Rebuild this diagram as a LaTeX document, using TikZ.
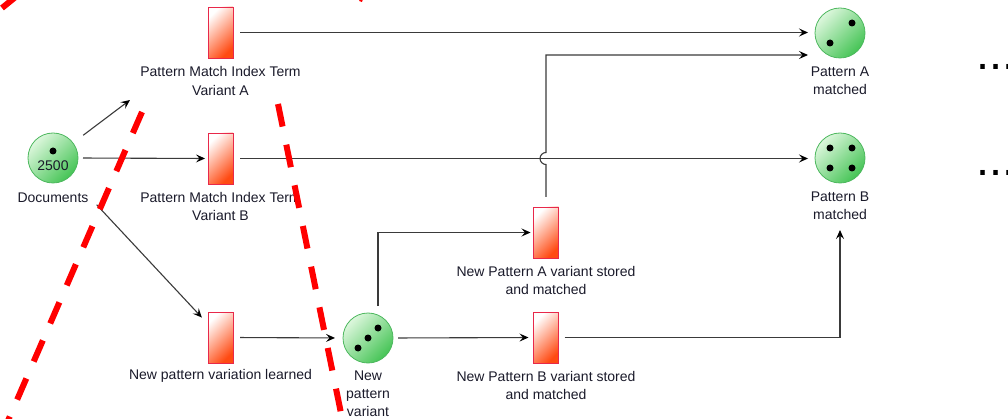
\documentclass[tikz,border=0pt]{standalone}
\usepackage{fontspec}
\setmainfont{Liberation Sans}
\usetikzlibrary{arrows.meta,calc}
\definecolor{edgec}{HTML}{3A3A3A}
\definecolor{placeb}{HTML}{4DB85E}
\definecolor{placel}{HTML}{DDF7DD}
\definecolor{placed}{HTML}{45C455}
\definecolor{transb}{HTML}{E8284A}
\definecolor{transd}{HTML}{FF4A12}
\definecolor{labc}{HTML}{1A1A2A}
\definecolor{redc}{HTML}{FF0000}
\tikzset{
  place/.style={circle, draw=placeb, line width=0.8pt, minimum size=50pt, inner sep=0pt, outer sep=0pt,
    top color=placel, bottom color=placed, shading angle=45},
  trans/.style={rectangle, draw=transb, line width=0.9pt, minimum width=25pt, minimum height=51pt,
    inner sep=0pt, outer sep=0pt, top color=white, bottom color=transd, shading angle=45},
  lab/.style={align=center, inner sep=0pt, font=\fontsize{14}{18}\selectfont, text=labc},
  arr/.style={draw=edgec, line width=1.1pt, -{Stealth[length=9pt,width=8pt,inset=3.5pt,color=black]}},
  cut/.style={draw=redc, line width=6pt, dash pattern=on 23pt off 18.5pt},
  cutfrag/.style={draw=redc, line width=6pt},
  more/.style={anchor=base west, inner sep=0pt, font=\fontsize{47}{47}\selectfont},
}
\begin{document}
\begin{tikzpicture}[x=1pt,y=1pt]
\useasboundingbox (0,0) rectangle (1008,-419);

% places
\node[place] (docs) at (53,-158) {};
\fill (53,-151) circle (3.5);
\node[lab, inner sep=0pt] (docsn) at (53,-166) {2500};
\node[lab] (docsl) at (53,-198) {Documents};

\node[place] (npv) at (368,-338) {};
\fill (358,-348) circle (3.5) (368,-338) circle (3.5) (378,-328) circle (3.5);
\node[lab] (npvl) at (368,-394) {New\\pattern\\variant};

\node[place] (pA) at (840,-33) {};
\fill (852,-23) circle (3.5) (830,-43) circle (3.5);
\node[lab] (pAl) at (840,-81) {Pattern A\\matched};

\node[place] (pB) at (840,-158) {};
\fill (830,-148) circle (3.5) (852,-148) circle (3.5) (830,-168) circle (3.5) (852,-168) circle (3.5);
\node[lab] (pBl) at (840,-206) {Pattern B\\matched};

% transitions
\node[trans] (tA) at (220.5,-32.5) {};
\node[lab] (tAl) at (220.5,-81) {Pattern Match Index Term\\Variant A};
\node[trans] (tB) at (220.5,-158.5) {};
\node[lab] (tBl) at (220.5,-206) {Pattern Match Index Term\\Variant B};
\node[trans] (tL) at (220.5,-337.5) {};
\node[lab] (tLl) at (220.5,-376) {New pattern variation learned};
\node[trans] (tSA) at (546,-232.5) {};
\node[lab] (tSAl) at (546,-280) {New Pattern A variant stored\\and matched};
\node[trans] (tSB) at (546,-337.5) {};
\node[lab] (tSBl) at (546,-385) {New Pattern B variant stored\\and matched};

% ellipses
\node[more] (more1) at (976.5,-70) {...};
\node[more] (more2) at (976.5,-176) {...};

% connectors
\coordinate (c1) at (130,-100);
\draw[arr, shorten <=12.8pt] (docs) -- (c1);
\draw[arr, shorten <=5pt, shorten >=3pt] (docs.east) -- (tB.west);
\draw[arr, shorten <=39pt, shorten >=9pt] (docs) -- (tL);
\draw[arr, shorten <=7pt, shorten >=7pt] (tA.east) -- (tA.east -| pA.west);
\draw[arr, shorten <=7pt, shorten >=7pt] (tB.east) -- (tB.east -| pB.west);
\coordinate (pAin) at ($(pA.west)+(-7,-22)$);
\draw[arr] ($(tSA.north)+(0,10)$) -- ($(tSA.north |- tB.east)+(0,-6)$)
   arc[start angle=270, end angle=90, radius=6] -- (tSA.north |- pAin) -- (pAin);
\draw[arr, shorten <=7pt, shorten >=8pt] (tL.east) -- (npv.west);
\draw[arr, shorten >=3pt] ($(npv.center)+(10,32)$) |- (tSA.west);
\draw[arr, shorten <=5pt, shorten >=5pt] (npv.east) -- (tSB.west);
\draw[arr, shorten <=6pt, shorten >=47pt] (tSB.east) -| (pB.south);

% red dashed cut lines
\draw[cut] (142,-112) -- (7,-423);
\draw[cut] (278,-104) -- (343,-423);
\draw[cutfrag] (2,-8) -- (18,5);
\draw[draw=redc, line width=3pt] (360.5,-1.5) -- (361.5,1);
\end{tikzpicture}
\end{document}
